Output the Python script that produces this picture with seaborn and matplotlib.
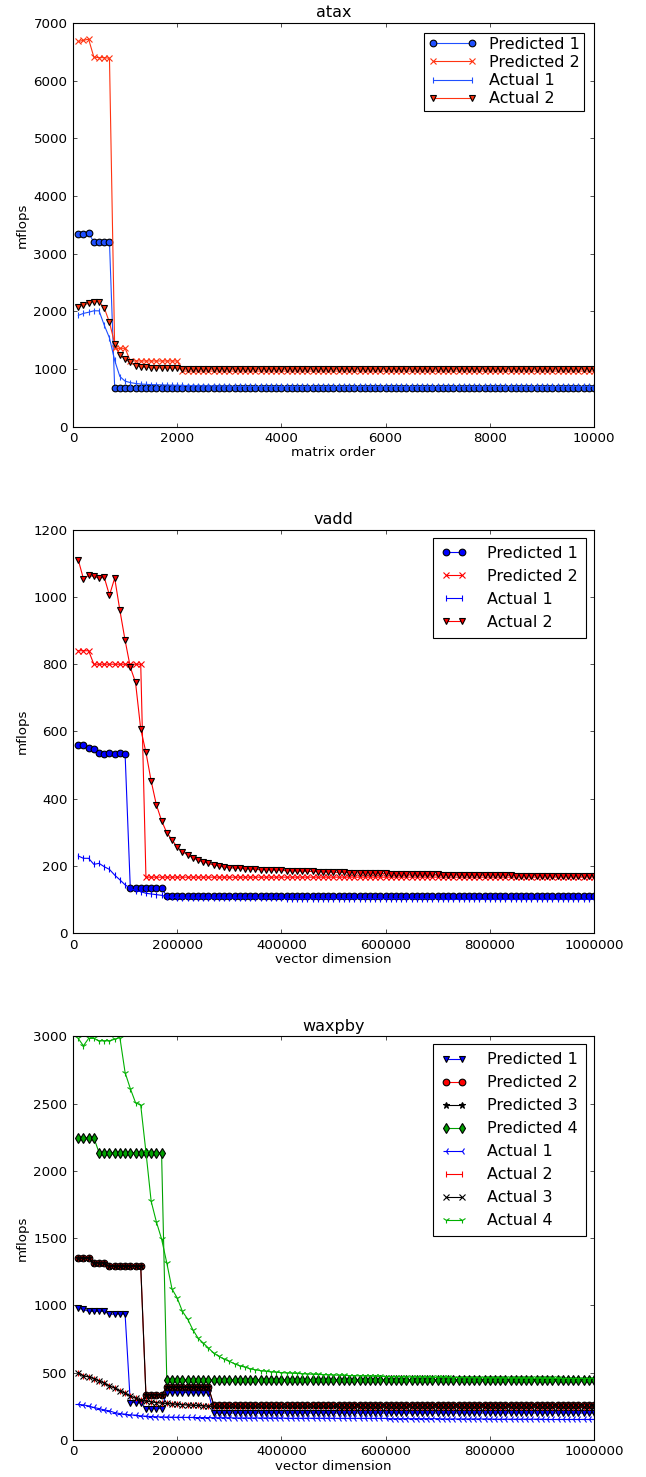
import numpy as np
import matplotlib
matplotlib.use("Agg")
import matplotlib.pyplot as plt
import seaborn as sns

# ---------------- data ----------------
atax_x = list(range(100, 10001, 100))
atax_pred1 = [3340, 3350, 3360, 3200, 3200, 3200, 3200] + [675] * 93
atax_pred2 = [6680, 6700, 6720, 6410, 6400, 6400, 6390, 1360, 1360, 1360] + [1140] * 10 + [965] * 80
atax_act1 = ([1930, 1965, 1985, 2010, 2010, 1760, 1540, 1150, 870, 790,
              765, 750, 740, 735, 730, 728, 725, 722, 720, 718,
              716, 714, 712, 711, 710, 709, 708, 707, 706, 705] + [700] * 70)
atax_act2 = ([2080, 2110, 2140, 2170, 2170, 2060, 1810, 1440, 1250, 1175,
              1115, 1060, 1040, 1030, 1025, 1020, 1020, 1020, 1015, 1015] + [1000] * 80)

vec_x = list(range(10000, 1000001, 10000))
vadd_pred1 = [560, 560, 550, 547, 537, 533, 535, 533, 535, 533] + [134] * 7 + [111] * 83
vadd_pred2 = [840, 840, 840] + [800] * 10 + [167] * 87
vadd_act1 = ([230, 223, 223, 205, 208, 198, 190, 173, 159, 144,
              134, 127, 124, 119, 117, 115, 113, 109, 107, 106]
             + [105] * 20 + [103] * 30 + [101] * 30)
vadd_act2 = [1111, 1054, 1064, 1061, 1056, 1058, 1005, 1056, 960, 871,
             791, 746, 607, 538, 453, 382, 335, 299, 278, 256,
             243, 233, 225, 217, 212, 208, 203, 200, 197, 195,
             194, 193, 192, 191, 190, 189, 189, 188, 188, 187,
             186, 186, 185, 185, 184, 184, 183, 183, 182, 182,
             181, 181, 180, 180, 179, 179, 179, 178, 178, 178,
             177, 177, 177, 176, 176, 176, 175, 175, 175, 175,
             174, 174, 174, 174, 173, 173, 173, 173, 173, 172,
             172, 172, 172, 172, 171, 171, 171, 171, 171, 171,
             171, 170, 170, 170, 170, 170, 170, 170, 170, 170]

wax_pred1 = [978, 970] + [955] * 4 + [935] * 4 + [278] * 3 + [233] * 4 + [352] * 9 + [200] * 74
wax_pred2 = [1350] * 3 + [1315] * 3 + [1290] * 7 + [335] * 4 + [390] * 9 + [262] * 74
wax_pred3 = [1350] * 3 + [1315] * 3 + [1290] * 7 + [335] * 4 + [390] * 9 + [262] * 74
wax_pred4 = [2246] * 4 + [2135] * 13 + [447] * 83
wax_act1 = ([265, 260, 253, 241, 233, 223, 216, 203, 196, 191,
             186, 184, 179, 176, 174, 172, 171, 170, 169, 168,
             168, 167, 167, 166, 166, 166, 165, 165, 165, 165]
            + [163] * 10 + [161] * 10 + [160] * 10 + [158] * 10
            + [156] * 10 + [154] * 10 + [152] * 10)
wax_act2 = ([501, 476, 469, 456, 439, 422, 402, 385, 365, 347,
             327, 310, 298, 290, 283, 278, 274, 271, 268, 265,
             262, 260, 258, 256, 254] + [250] * 25 + [246] * 50)
wax_act3 = ([501, 476, 469, 456, 439, 422, 402, 385, 365, 347,
             327, 310, 298, 290, 283, 278, 274, 271, 268, 265,
             262, 260, 258, 256, 254] + [250] * 25 + [246] * 50)
wax_act4 = [2984, 2929, 2984, 2984, 2966, 2966, 2966, 2978, 2990, 2730,
            2611, 2507, 2487, 2140, 1774, 1621, 1494, 1316, 1122, 1055,
            955, 899, 819, 757, 720, 683, 646, 621, 601, 584,
            566, 551, 541, 529, 521, 515, 510, 506, 503, 500,
            498, 496, 494, 492, 490, 488, 487, 485, 484, 482,
            481, 480, 478, 477, 476, 475, 474, 473, 472, 471,
            470, 470, 469, 468, 467, 467, 466, 466, 465, 465,
            464, 464, 463, 463, 462, 462, 461, 461, 461, 460,
            460, 460, 459, 459, 459, 458, 458, 458, 458, 457,
            457, 457, 457, 456, 456, 456, 456, 456, 456, 456]

# ---------------- style ----------------
sns.set_style("ticks", {"xtick.direction": "in", "ytick.direction": "in",
                        "xtick.top": True, "ytick.right": True,
                        "axes.edgecolor": "black"})
plt.rcParams["font.family"] = ["DejaVu Sans"]
plt.rcParams.update({
    "xtick.labelsize": 12, "ytick.labelsize": 12,
    "xtick.major.size": 4, "ytick.major.size": 4,
    "xtick.major.width": 0.6, "ytick.major.width": 0.6,
    "xtick.major.pad": 5, "ytick.major.pad": 5,
    "axes.linewidth": 1.0, "axes.labelsize": 12,
    "xtick.color": "black", "ytick.color": "black",
    "text.color": "black", "axes.labelcolor": "black",
})

fig, axes = plt.subplots(3, 1, figsize=(646 / 80, 1477 / 80), dpi=80)
fig.subplots_adjust(left=0.113, right=0.9195, top=0.9844, bottom=0.0251, hspace=0.255)


def draw(ax, x, y, color, marker, label, filled, ms=6):
    kw = dict(color=color, marker=marker, markersize=ms, linewidth=1.0, label=label)
    if filled:
        kw.update(markeredgecolor="black", markeredgewidth=1.0, markerfacecolor=color)
    else:
        kw.update(markeredgecolor=color, markeredgewidth=1.0)
    sns.lineplot(x=x, y=y, ax=ax, legend=False, **kw)


# atax
ax = axes[0]
ablue = "#1f4fff"
ared = "#ff3311"
draw(ax, atax_x, atax_pred1, ablue, "o", "Predicted 1", True)
draw(ax, atax_x, atax_pred2, ared, "x", "Predicted 2", False)
draw(ax, atax_x, atax_act1, ablue, "|", "Actual 1", False)
draw(ax, atax_x, atax_act2, ared, "v", "Actual 2", True)
ax.set_xlim(0, 10000)
ax.set_ylim(0, 7000)
ax.set_title("atax", fontsize=14.4, pad=5)
ax.set_xlabel("matrix order", labelpad=1)
ax.set_ylabel("mflops")
ax.legend(loc="upper right", fontsize=14.4, numpoints=2, fancybox=False,
          edgecolor="black", framealpha=1, labelspacing=0.2, handlelength=3.0,
          handletextpad=0.8, borderpad=0.26, borderaxespad=0.6)

# vadd
ax = axes[1]
draw(ax, vec_x, vadd_pred1, "blue", "o", "Predicted 1", True)
draw(ax, vec_x, vadd_pred2, "red", "x", "Predicted 2", False)
draw(ax, vec_x, vadd_act1, "blue", "|", "Actual 1", False)
draw(ax, vec_x, vadd_act2, "red", "v", "Actual 2", True)
ax.set_xlim(0, 1000000)
ax.set_ylim(0, 1200)
ax.set_title("vadd", fontsize=14.4, pad=5)
ax.set_xlabel("vector dimension", labelpad=1)
ax.set_ylabel("mflops")
ax.legend(loc="upper right", fontsize=14.4, numpoints=2, fancybox=False,
          edgecolor="black", framealpha=1, labelspacing=0.5, handlelength=1.6,
          handletextpad=1.3, borderpad=0.5, borderaxespad=0.5)

# waxpby
ax = axes[2]
g = "#00a000"
draw(ax, vec_x, wax_pred1, "blue", "v", "Predicted 1", True)
draw(ax, vec_x, wax_pred2, "red", "o", "Predicted 2", True)
draw(ax, vec_x, wax_pred3, "black", "*", "Predicted 3", True)
draw(ax, vec_x, wax_pred4, g, "d", "Predicted 4", True)
draw(ax, vec_x, wax_act1, "blue", "3", "Actual 1", False)
draw(ax, vec_x, wax_act2, "red", "|", "Actual 2", False)
draw(ax, vec_x, wax_act3, "black", "x", "Actual 3", False)
draw(ax, vec_x, wax_act4, "#00b000", "1", "Actual 4", False)
ax.set_xlim(0, 1000000)
ax.set_ylim(0, 3000)
ax.set_title("waxpby", fontsize=14.4, pad=5)
ax.set_xlabel("vector dimension", labelpad=1)
ax.set_ylabel("mflops")
ax.legend(loc="upper right", fontsize=14.4, numpoints=2, fancybox=False,
          edgecolor="black", framealpha=1, labelspacing=0.5, handlelength=1.6,
          handletextpad=1.3, borderpad=0.5, borderaxespad=0.5)

for ax in axes:
    ax.ticklabel_format(style="plain", axis="both", useOffset=False)
    ax.tick_params(which="both", direction="in", top=True, right=True)
    for s in ax.spines.values():
        s.set_color("black")
        s.set_linewidth(1.0)
        s.set_visible(True)
    ax.legend_.get_frame().set_linewidth(1.0)

fig.savefig("out.png", dpi=80, facecolor="white")
